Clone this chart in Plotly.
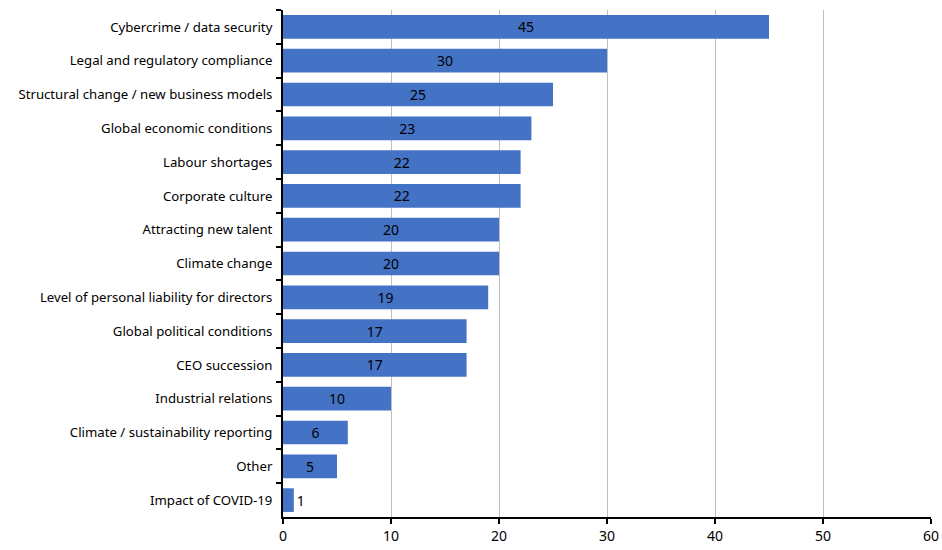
import plotly.graph_objects as go

categories = [
    "Cybercrime / data security",
    "Legal and regulatory compliance",
    "Structural change / new business models",
    "Global economic conditions",
    "Labour shortages",
    "Corporate culture",
    "Attracting new talent",
    "Climate change",
    "Level of personal liability for directors",
    "Global political conditions",
    "CEO succession",
    "Industrial relations",
    "Climate / sustainability reporting",
    "Other",
    "Impact of COVID-19",
]
values = [45, 30, 25, 23, 22, 22, 20, 20, 19, 17, 17, 10, 6, 5, 1]
x_ticks = [0, 10, 20, 30, 40, 50, 60]

fig = go.Figure(
    go.Bar(
        x=values,
        y=categories,
        orientation="h",
        marker=dict(color="#4472C4", line=dict(width=0)),
        text=[str(v) for v in values],
        textposition="auto",
        textangle=0,
        insidetextanchor="middle",
        textfont=dict(color="#000000", size=14, family="Noto Sans"),
        outsidetextfont=dict(color="#000000", size=14, family="Noto Sans"),
        constraintext="none",
        cliponaxis=False,
        width=0.7,
    )
)

fig.update_layout(
    width=942,
    height=550,
    margin=dict(l=283, r=11, t=10, b=33),
    paper_bgcolor="white",
    plot_bgcolor="white",
    showlegend=False,
    font=dict(family="Noto Sans", size=12, color="#000000"),
    bargap=0.3,
)
fig.update_xaxes(
    range=[0, 60],
    tickvals=x_ticks,
    showgrid=True,
    gridcolor="#BFBFBF",
    gridwidth=1,
    showline=True,
    linecolor="#000000",
    linewidth=2,
    ticks="outside",
    ticklen=5,
    tickwidth=2,
    tickcolor="#000000",
    zeroline=False,
    tickfont=dict(size=14),
    automargin=False,
)
fig.update_yaxes(
    autorange="reversed",
    showline=True,
    linecolor="#000000",
    linewidth=2,
    ticks="outside",
    tickson="boundaries",
    ticklen=5,
    tickwidth=2,
    tickcolor="#000000",
    showgrid=False,
    tickfont=dict(size=13.2),
    ticklabelstandoff=6,
    automargin=False,
)

# remove the default 8px page margin so the 942x550 figure fills the window exactly
fig.write_html(
    "out.html",
    config={"displayModeBar": False},
    post_script="document.body.style.margin='0';document.body.style.overflow='hidden';",
)
